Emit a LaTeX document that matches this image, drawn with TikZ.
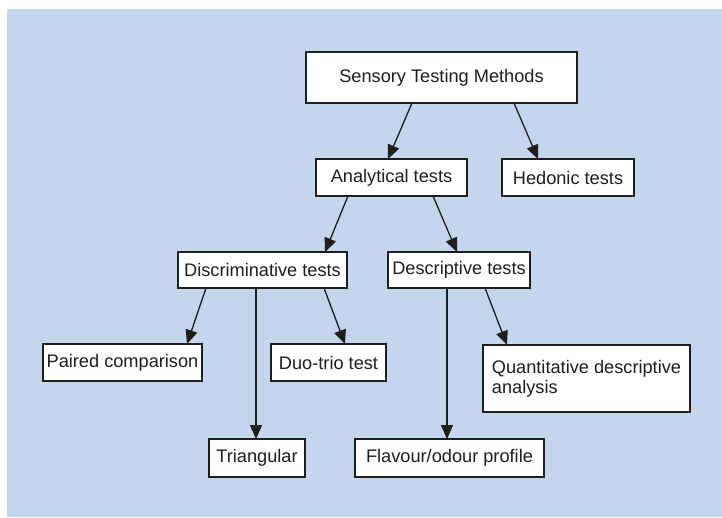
\documentclass[tikz,border=0pt]{standalone}
\usepackage{fontspec}
\setmainfont{Liberation Sans}
\usetikzlibrary{arrows.meta}
\definecolor{bgblue}{RGB}{197,214,236}
\definecolor{ink}{RGB}{30,30,30}
\tikzset{
  box/.style={draw=ink, fill=white, line width=1.3pt, rectangle, inner sep=0pt, outer sep=0pt,
    font=\fontsize{18.2}{20}\selectfont, text=ink},
  topbox/.style={box, line width=2.6pt},
  arr/.style={draw=ink, line width=1.3pt, -{Triangle[length=14pt,width=12pt]}},
}
\begin{document}
\begin{tikzpicture}[x=1pt,y=1pt]
\useasboundingbox (0,0) rectangle (722,-517);
\fill[bgblue] (7,-9) rectangle (722,-517);

\node[topbox, minimum width=271pt, minimum height=51pt] (stm) at (441.5,-77.5) {Sensory Testing Methods};
\node[box, minimum width=151pt, minimum height=37pt] (ana) at (391.5,-177.5) {Analytical tests};
\node[box, minimum width=132pt, minimum height=37pt] (hed) at (568,-177.5) {Hedonic tests};
\node[box, minimum width=169pt, minimum height=36pt] (dis) at (262.5,-270) {Discriminative tests};
\node[box, minimum width=142pt, minimum height=36pt] (des) at (459,-270) {Descriptive tests};
\node[box, minimum width=159pt, minimum height=37pt] (pai) at (122.5,-362.5) {Paired comparison};
\node[box, minimum width=115pt, minimum height=37pt] (duo) at (328.5,-362.5) {Duo-trio test};
\node[box, minimum width=207pt, minimum height=67pt, align=left] (qda) at (586.5,-378.5) {Quantitative descriptive\\analysis};
\node[box, minimum width=96pt, minimum height=38pt] (tri) at (257,-458) {Triangular};
\node[box, minimum width=189pt, minimum height=38pt] (fla) at (449.5,-458) {Flavour/odour profile};

\draw[arr] ([xshift=-29.5pt]stm.south) -- ([xshift=-3.5pt]ana.north);
\draw[arr] ([xshift=72.5pt]stm.south) -- ([xshift=-30pt]hed.north);
\draw[arr] ([xshift=-43.5pt]ana.south) -- ([xshift=62.5pt]dis.north);
\draw[arr] ([xshift=41.5pt]ana.south) -- ([xshift=-2pt]des.north);
\draw[arr] ([xshift=-56.5pt]dis.south) -- ([xshift=64.5pt]pai.north);
\draw[arr] ([xshift=61.5pt]dis.south) -- ([xshift=16.5pt]duo.north);
\draw[arr] ([xshift=-6.5pt]dis.south) -- ([xshift=-1pt]tri.north);
\draw[arr] ([xshift=-12pt]des.south) -- ([xshift=-2.5pt]fla.north);
\draw[arr] ([xshift=26pt]des.south) -- ([xshift=-79.5pt]qda.north);
\end{tikzpicture}
\end{document}
